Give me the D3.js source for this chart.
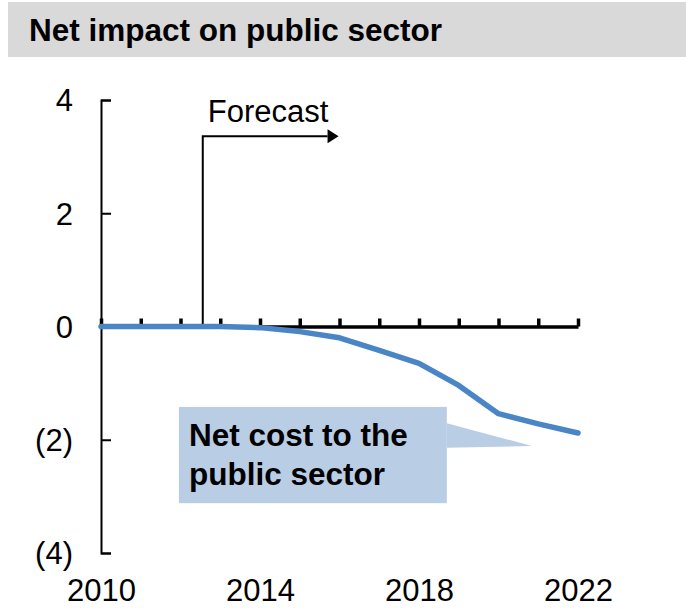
<!DOCTYPE html>
<html>
<head>
<meta charset="utf-8">
<script src="https://cdn.jsdelivr.net/npm/d3@7/dist/d3.min.js"></script>
<style>
  html, body { margin: 0; padding: 0; background: #ffffff; }
  svg { display: block; }
  text { font-family: "Liberation Sans", Arial, Helvetica, sans-serif; }
</style>
</head>
<body>
<svg id="chart" width="686" height="608"></svg>
<script>
// ---- data ----
const years = [2010, 2011, 2012, 2013, 2014, 2015, 2016, 2017, 2018, 2019, 2020, 2021, 2022];
const netImpact = [0, 0, 0, 0, -0.02, -0.09, -0.2, -0.42, -0.65, -1.04, -1.54, -1.72, -1.88];
const yTicks = [4, 2, 0, -2, -4];
const xLabelYears = [2010, 2014, 2018, 2022];
const title = "Net impact on public sector";
const forecastLabel = "Forecast";
const forecastStart = 2012.56;
const calloutLines = ["Net cost to the", "public sector"];

const svg = d3.select("#chart");
const W = 686, H = 608;

const x = d3.scaleLinear().domain([2010, 2022]).range([101, 578]);
const y = d3.scaleLinear().domain([-4, 4]).range([553, 100]);

// title band
svg.append("rect").attr("x", 8).attr("y", 2).attr("width", W - 8).attr("height", 55)
  .attr("fill", "#d9d9d9");
svg.append("text").attr("x", 29).attr("y", 41)
  .attr("font-size", 31.5).attr("font-weight", "bold").attr("fill", "#000")
  .text(title);

// y axis
const fmt = v => v < 0 ? "(" + Math.abs(v) + ")" : String(v);
const yAxis = d3.axisLeft(y).tickValues(yTicks).tickFormat(fmt)
  .tickSizeInner(-10).tickSizeOuter(-10).tickPadding(28);
const gy = svg.append("g").attr("transform", "translate(" + x(2010) + ",0)").call(yAxis);
gy.select(".domain").attr("stroke", "#000").attr("stroke-width", 2);
gy.selectAll(".tick line").attr("stroke", "#000").attr("stroke-width", 2);
gy.selectAll(".tick text").attr("font-size", 31).attr("fill", "#000")
  .attr("font-family", "Liberation Sans, Arial, sans-serif").attr("dy", "0.35em");
gy.selectAll(".tick").filter(d => d === 0).select("line").remove();

// x axis at zero
const xAxis = d3.axisBottom(x).tickValues(years).tickFormat("")
  .tickSizeInner(-8).tickSizeOuter(0);
const gx = svg.append("g").attr("transform", "translate(0," + y(0) + ")").call(xAxis);
gx.select(".domain").attr("stroke", "#000").attr("stroke-width", 3.5);
gx.selectAll(".tick line").attr("stroke", "#000").attr("stroke-width", 3.5);

// x labels at bottom
const xAxisB = d3.axisBottom(x).tickValues(xLabelYears).tickFormat(d3.format("d"))
  .tickSize(0).tickPadding(0);
const gxb = svg.append("g").attr("transform", "translate(0,601)").call(xAxisB);
gxb.select(".domain").remove();
gxb.selectAll(".tick text").attr("font-size", 31).attr("fill", "#000")
  .attr("font-family", "Liberation Sans, Arial, sans-serif").attr("dy", 0).attr("y", 0);

// forecast marker
const fx = x(forecastStart), fTop = y(3.36), fEnd = x(2015.7);
svg.append("path")
  .attr("d", "M" + fx + "," + y(0) + "V" + fTop + "H" + fEnd)
  .attr("fill", "none").attr("stroke", "#000").attr("stroke-width", 2);
svg.append("path")
  .attr("d", "M" + fEnd + "," + (fTop - 7) + "L" + (fEnd + 11) + "," + fTop + "L" + fEnd + "," + (fTop + 7) + "Z")
  .attr("fill", "#000");
svg.append("text").attr("x", fx + 5).attr("y", 121.5)
  .attr("font-size", 31).attr("fill", "#000").text(forecastLabel);

// callout
const bx0 = x(2011.96), bx1 = x(2018.7), by0 = y(-1.42), by1 = y(-3.12);
const tipX = x(2020.84), tipY = y(-2.11);
svg.append("path")
  .attr("d", "M" + bx1 + "," + y(-1.71) + "L" + tipX + "," + tipY + "L" + bx1 + "," + y(-2.14) + "Z")
  .attr("fill", "#b9cde5");
svg.append("rect").attr("x", bx0).attr("y", by0).attr("width", bx1 - bx0).attr("height", by1 - by0)
  .attr("fill", "#b9cde5");
svg.append("g").selectAll("text").data(calloutLines).join("text")
  .attr("x", bx0 + 10).attr("y", (d, i) => 446 + i * 38.5)
  .attr("font-size", 31.5).attr("font-weight", "bold").attr("fill", "#000")
  .text(d => d);

// series line
const line = d3.line().x((d, i) => x(years[i])).y(d => y(d));
svg.append("path").datum(netImpact)
  .attr("d", line)
  .attr("fill", "none").attr("stroke", "#4a86c6").attr("stroke-width", 5.5)
  .attr("stroke-linejoin", "round").attr("stroke-linecap", "round");
</script>
</body>
</html>
